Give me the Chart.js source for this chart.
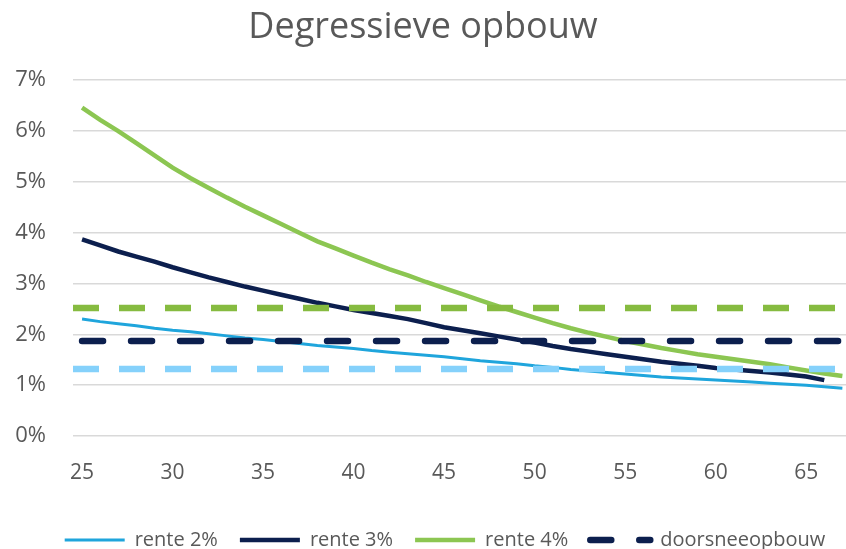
<!DOCTYPE html>
<html>
<head>
<meta charset="utf-8">
<script src="https://cdn.jsdelivr.net/npm/chart.js@4.4.1/dist/chart.umd.min.js"></script>
<style>
  html, body { margin: 0; padding: 0; background: #ffffff; }
  #wrap { width: 846px; height: 549px; }
</style>
</head>
<body>
<div id="wrap"><canvas id="chart" width="846" height="549"></canvas></div>
<script>
// Ages (x) and accrual percentages per age for each interest rate
const ages = [25, 26, 27, 28, 29, 30, 31, 32, 33, 34, 35, 36, 37, 38, 39, 40, 41, 42, 43, 44, 45,
              46, 47, 48, 49, 50, 51, 52, 53, 54, 55, 56, 57, 58, 59, 60, 61, 62, 63, 64, 65, 66, 67];

const rente2 = [2.30, 2.25, 2.21, 2.17, 2.12, 2.08, 2.05, 2.01, 1.97, 1.93, 1.90, 1.86, 1.82, 1.78, 1.75,
                1.72, 1.68, 1.65, 1.62, 1.59, 1.56, 1.52, 1.48, 1.45, 1.42, 1.38, 1.35, 1.31, 1.28, 1.25,
                1.22, 1.19, 1.16, 1.14, 1.12, 1.10, 1.08, 1.06, 1.04, 1.02, 1.00, 0.97, 0.94];

// rente 3% runs up to age 66
const rente3 = [3.87, 3.75, 3.63, 3.53, 3.43, 3.32, 3.22, 3.12, 3.03, 2.94, 2.86, 2.78, 2.70, 2.62, 2.55,
                2.48, 2.42, 2.36, 2.30, 2.22, 2.14, 2.08, 2.02, 1.96, 1.90, 1.84, 1.77, 1.71, 1.66, 1.61,
                1.56, 1.51, 1.46, 1.42, 1.38, 1.34, 1.31, 1.28, 1.25, 1.21, 1.17, 1.10];

const rente4 = [6.46, 6.22, 6.00, 5.76, 5.52, 5.28, 5.07, 4.88, 4.69, 4.51, 4.34, 4.17, 4.00, 3.83, 3.69,
                3.55, 3.41, 3.28, 3.16, 3.03, 2.91, 2.79, 2.67, 2.55, 2.44, 2.33, 2.22, 2.12, 2.03, 1.95,
                1.87, 1.80, 1.73, 1.67, 1.61, 1.56, 1.51, 1.46, 1.41, 1.35, 1.29, 1.23, 1.18];

// Flat (average) accrual levels belonging to each interest rate
const doorsnee2 = 1.32;
const doorsnee3 = 1.87;
const doorsnee4 = 2.52;

// Axis ticks
const xTicks = [25, 30, 35, 40, 45, 50, 55, 60, 65];
const yTicks = [0, 1, 2, 3, 4, 5, 6, 7];
const xMin = 24.5, xMax = 67.2;

const pairs = (xs, ys) => ys.map((y, i) => ({ x: xs[i], y }));

const FONT = 'Open Sans';
const GREY = '#595959';
const C_LIGHT = '#1FA5DC', C_NAVY = '#0C1F4E', C_GREEN = '#8CC652';
const C_GREEN_D = '#86BB40', C_LIGHT_D = '#85D1FB';

const datasets = [
  { label: 'rente 2%', data: pairs(ages, rente2), borderColor: C_LIGHT, backgroundColor: C_LIGHT,
    borderWidth: 3, order: 1 },
  { label: 'rente 3%', data: pairs(ages, rente3), borderColor: C_NAVY, backgroundColor: C_NAVY,
    borderWidth: 4.5, order: 1 },
  { label: 'rente 4%', data: pairs(ages, rente4), borderColor: C_GREEN, backgroundColor: C_GREEN,
    borderWidth: 4.5, order: 1 },
  { label: 'doorsneeopbouw', data: [{ x: ages[0], y: doorsnee3 }, { x: xMax, y: doorsnee3 }],
    borderColor: C_NAVY, backgroundColor: C_NAVY, borderWidth: 6.5, borderDash: [21, 28],
    borderCapStyle: 'round', order: 0 },
  { label: 'doorsneeopbouw 4%', data: [{ x: xMin, y: doorsnee4 }, { x: xMax, y: doorsnee4 }],
    borderColor: C_GREEN_D, backgroundColor: C_GREEN_D, borderWidth: 6.5, borderDash: [26, 20],
    borderCapStyle: 'butt', order: 0 },
  { label: 'doorsneeopbouw 2%', data: [{ x: xMin, y: doorsnee2 }, { x: xMax, y: doorsnee2 }],
    borderColor: C_LIGHT_D, backgroundColor: C_LIGHT_D, borderWidth: 6.5, borderDash: [26, 20],
    borderCapStyle: 'butt', order: 0 }
];

// Nudges the legend row to the right so it sits centred under the plot area
const legendOffset = {
  id: 'legendOffset',
  afterLayout(chart, args, opts) {
    const lg = chart.legend;
    if (!lg) return;
    lg.left += opts.dx;
    lg.right += opts.dx;
  }
};

// Legend samples take dash pattern, cap and width from the dataset line itself
const legendLabels = chart =>
  Chart.defaults.plugins.legend.labels.generateLabels(chart).map(item => {
    const ds = chart.data.datasets[item.datasetIndex];
    item.lineDash = ds.borderDash || [];
    item.lineCap = ds.borderCapStyle || 'butt';
    item.lineWidth = ds.borderWidth;
    return item;
  });

new Chart(document.getElementById('chart'), {
  type: 'line',
  data: { datasets },
  plugins: [legendOffset],
  options: {
    responsive: false,
    animation: false,
    events: [],
    elements: { point: { radius: 0, hoverRadius: 0 }, line: { tension: 0, fill: false } },
    layout: { padding: { left: 0, right: 0, top: 0, bottom: -11 } },
    plugins: {
      legendOffset: { dx: 22 },
      title: {
        display: true, text: 'Degressieve opbouw', color: GREY,
        font: { family: FONT, size: 36, weight: 'normal' },
        padding: { top: 6, bottom: 31 }
      },
      legend: {
        position: 'bottom',
        labels: {
          generateLabels: legendLabels,
          filter: item => item.datasetIndex <= 3,
          sort: (a, b) => a.datasetIndex - b.datasetIndex,
          usePointStyle: true, pointStyle: 'line', pointStyleWidth: 60, boxHeight: 10,
          color: GREY, font: { family: FONT, size: 20 }, padding: 22
        }
      },
      tooltip: { enabled: false }
    },
    scales: {
      x: {
        type: 'linear', min: xMin, max: xMax,
        afterBuildTicks: s => { s.ticks = xTicks.map(v => ({ value: v })); },
        afterFit: s => { s.height = 72; },
        grid: { display: false, drawTicks: false },
        border: { display: false },
        ticks: { color: GREY, font: { family: FONT, size: 21 }, padding: 24, maxRotation: 0 }
      },
      y: {
        min: 0, max: 7,
        afterBuildTicks: s => { s.ticks = yTicks.map(v => ({ value: v })); },
        afterFit: s => { s.width = 73; },
        grid: { color: '#D9D9D9', lineWidth: 1.5, drawTicks: false },
        border: { display: false },
        ticks: { color: GREY, font: { family: FONT, size: 22 }, padding: 27,
                 callback: v => v + '%' }
      }
    }
  }
});
</script>
</body>
</html>
